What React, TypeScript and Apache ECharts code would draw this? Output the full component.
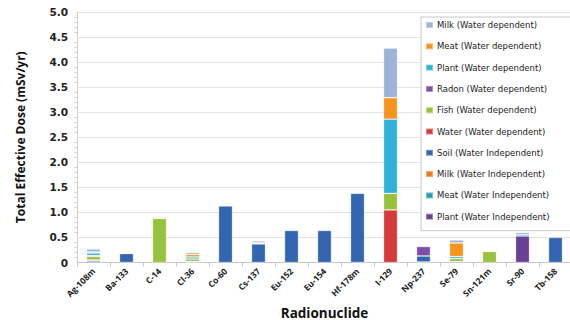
import React, { useEffect, useRef } from "react";
import * as echarts from "echarts";

const categories = ["Ag-108m", "Ba-133", "C-14", "Cl-36", "Co-60", "Cs-137", "Eu-152", "Eu-154", "Hf-178m", "I-129", "Np-237", "Se-79", "Sn-121m", "Sr-90", "Tb-158"];

// stacked bottom -> top
const plantWI = [0, 0, 0, 0, 0, 0, 0, 0, 0, 0, 0.01, 0, 0, 0.53, 0];
const meatWI = [0, 0, 0, 0, 0, 0, 0, 0, 0, 0, 0, 0, 0, 0.03, 0];
const milkWI = [0, 0, 0, 0, 0, 0, 0, 0, 0, 0, 0, 0, 0, 0, 0];
const soilWI = [0.03, 0.18, 0, 0.01, 1.13, 0.37, 0.64, 0.64, 1.38, 0, 0.12, 0, 0, 0.03, 0.5];
const waterWD = [0.02, 0, 0, 0.01, 0, 0.01, 0, 0, 0, 1.05, 0, 0.02, 0, 0, 0];
const fishWD = [0.07, 0, 0.88, 0.05, 0, 0, 0, 0, 0, 0.33, 0, 0.06, 0.22, 0, 0];
const radonWD = [0.02, 0, 0, 0, 0, 0.02, 0, 0, 0, 0, 0.19, 0, 0, 0, 0];
const plantWD = [0.05, 0, 0.02, 0.04, 0, 0, 0, 0, 0, 1.48, 0, 0.04, 0.01, 0, 0];
const meatWD = [0.02, 0, 0, 0.05, 0, 0, 0, 0, 0, 0.43, 0, 0.27, 0, 0, 0];
const milkWD = [0.06, 0, 0, 0.04, 0.01, 0.03, 0, 0, 0, 0.99, 0, 0.06, 0, 0.02, 0];

const seriesDefs = [
  { name: "Plant (Water Independent)", data: plantWI, color: "#6a3f98" },
  { name: "Meat (Water Independent)", data: meatWI, color: "#2a9bb0" },
  { name: "Milk (Water Independent)", data: milkWI, color: "#e8801e" },
  { name: "Soil (Water Independent)", data: soilWI, color: "#3366b0" },
  { name: "Water (Water dependent)", data: waterWD, color: "#d63b3b" },
  { name: "Fish (Water dependent)", data: fishWD, color: "#98c23c" },
  { name: "Radon (Water dependent)", data: radonWD, color: "#7b4fa8" },
  { name: "Plant (Water dependent)", data: plantWD, color: "#2fb2d6" },
  { name: "Meat (Water dependent)", data: meatWD, color: "#f7941e" },
  { name: "Milk (Water dependent)", data: milkWD, color: "#9db4d8" },
];

const yTicks = ["0", "0.5", "1.0", "1.5", "2.0", "2.5", "3.0", "3.5", "4.0", "4.5", "5.0"];

export default function App() {
  const ref = useRef<HTMLDivElement>(null);
  useEffect(() => {
    if (!ref.current) return;
    const chart = echarts.init(ref.current, null, { renderer: "svg" });
    const option = {
      animation: false,
      backgroundColor: "#ffffff",
      grid: { left: 77, right: -2, top: 12, bottom: 57.5, containLabel: false, outerBoundsMode: "none" },
      legend: {
        orient: "vertical",
        left: 421,
        top: 17,
        icon: "rect",
        itemWidth: 7,
        itemHeight: 6,
        itemGap: 9.3,
        padding: [2, 25, 8, 4],
        backgroundColor: "#ffffff",
        borderColor: "#c8c8c8",
        borderWidth: 1,
        data: seriesDefs.map((s) => s.name).reverse(),
        textStyle: { fontSize: 8.5, lineHeight: 12, color: "#222", fontFamily: "DejaVu Sans", padding: [0, 0, 0, -1] },
      },
      xAxis: {
        type: "category",
        data: categories,
        name: "Radionuclide",
        nameLocation: "middle",
        nameGap: 35,
        nameTextStyle: { fontSize: 13.5, lineHeight: 15, fontWeight: "bold", color: "#111", fontFamily: "Open Sans" },
        axisLine: { lineStyle: { color: "#c8c8c8" } },
        axisTick: { show: true, length: 4, lineStyle: { color: "#c8c8c8" } },
        axisLabel: { rotate: 45, fontSize: 8.5, fontWeight: "bold", color: "#222", fontFamily: "Open Sans", margin: 7, interval: 0 },
      },
      yAxis: {
        type: "value",
        min: 0,
        max: 5,
        interval: 0.5,
        name: "Total Effective Dose (mSv/yr)",
        nameLocation: "middle",
        nameGap: 51,
        nameTextStyle: { fontSize: 12, fontWeight: "bold", color: "#111", fontFamily: "Open Sans" },
        axisLine: { show: true, lineStyle: { color: "#d0d0d0" } },
        axisTick: { show: false },
        minorTick: { show: true, splitNumber: 5, length: 3, lineStyle: { color: "#d8d8d8" } },
        splitLine: { lineStyle: { color: "#e3e3e3" } },
        axisLabel: {
          fontSize: 10.5,
          fontWeight: "bold",
          color: "#222",
          fontFamily: "DejaVu Sans",
          margin: 9,
          formatter: (v: number) => yTicks[Math.round(v * 2)] ?? String(v),
        },
      },
      series: seriesDefs.map((s) => ({
        name: s.name,
        type: "bar",
        stack: "total",
        barWidth: 14,
        itemStyle: { color: s.color, borderColor: "rgba(255,255,255,0.35)", borderWidth: 0.8 },
        data: s.data.map((v) => (v === 0 ? null : v)),
      })),
    };
    chart.setOption(option as any);
    return () => chart.dispose();
  }, []);
  return <div ref={ref} style={{ position: "absolute", left: 0, top: 0, width: 570, height: 320 }} />;
}
